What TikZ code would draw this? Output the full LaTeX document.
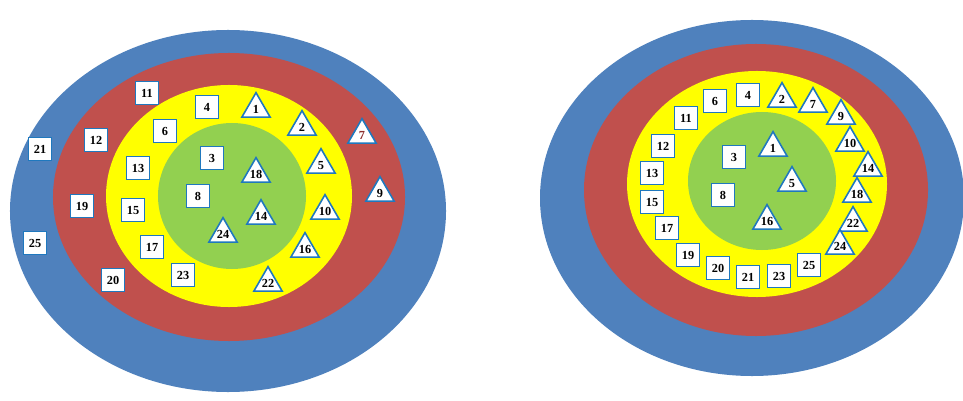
\documentclass[tikz,border=0pt]{standalone}
\usepackage{fontspec}
\setmainfont{Liberation Serif}
\usetikzlibrary{shapes.geometric}
\definecolor{ringblue}{RGB}{79,129,189}
\definecolor{ringred}{RGB}{192,80,77}
\definecolor{ringyellow}{RGB}{255,255,0}
\definecolor{ringgreen}{RGB}{146,208,80}
\definecolor{edge}{RGB}{31,120,190}
\definecolor{darkred}{RGB}{140,45,45}
\begin{document}
\begin{tikzpicture}[x=0.03cm,y=-0.03cm,
  numfont/.style={font=\fontsize{10.5}{12}\selectfont\bfseries},
  sq/.style={draw=edge, fill=white, line width=1.35pt, minimum size=0.69cm, inner sep=0pt, numfont},
  tri/.style={regular polygon, regular polygon sides=3, draw=edge, fill=white, line width=1.35pt,
    minimum size=0.98cm, inner sep=0pt, label={[numfont, inner sep=0pt, yshift=-0.5pt]center:#1}}]
\useasboundingbox (0,0) rectangle (963,401);
\fill[white] (0,0) rectangle (963,401);
% left rings
\fill[ringblue]   (228,211) ellipse [x radius=6.54cm, y radius=5.43cm];
\fill[ringred]    (229,197) ellipse [x radius=5.28cm, y radius=4.32cm];
\fill[ringyellow] (229,196) ellipse [x radius=3.69cm, y radius=3.33cm];
\fill[ringgreen]  (232,196) ellipse [x radius=2.22cm, y radius=2.19cm];
% right rings
\fill[ringblue]   (752,198) ellipse [x radius=6.36cm, y radius=5.34cm];
\fill[ringred]    (756,190) ellipse [x radius=5.16cm, y radius=4.38cm];
\fill[ringyellow] (757,184) ellipse [x radius=3.90cm, y radius=3.39cm];
\fill[ringgreen]  (762,181) ellipse [x radius=2.22cm, y radius=2.07cm];
% left squares
\node[sq] (a11) at (147,93) {11};
\node[sq] (a4)  at (207,107) {4};
\node[sq] (a6)  at (165,131) {6};
\node[sq] (a12) at (96,140) {12};
\node[sq] (a21) at (40,149) {21};
\node[sq] (a13) at (138,168) {13};
\node[sq] (a3)  at (212,158) {3};
\node[sq] (a8)  at (198,196) {8};
\node[sq] (a19) at (82,206) {19};
\node[sq] (a15) at (133,210) {15};
\node[sq] (a25) at (35,243) {25};
\node[sq] (a17) at (152,247) {17};
\node[sq] (a20) at (113,280) {20};
\node[sq] (a23) at (183,275) {23};
% left triangles
\node[tri=1]  (b1)  at (256,109) {};
\node[tri=2]  (b2)  at (302,127) {};
\node[tri={\color{darkred}7}]  (b7)  at (362,135) {};
\node[tri=18] (b18) at (256,174) {};
\node[tri=5]  (b5)  at (321,165) {};
\node[tri=9]  (b9)  at (380,193) {};
\node[tri=10] (b10) at (325,211) {};
\node[tri=14] (b14) at (261,216) {};
\node[tri=24] (b24) at (223,234) {};
\node[tri=16] (b16) at (305,249) {};
\node[tri=22] (b22) at (268,283) {};
% right squares
\node[sq] (c4)  at (748,95) {4};
\node[sq] (c6)  at (715,101) {6};
\node[sq] (c11) at (686,118) {11};
\node[sq] (c12) at (663,146) {12};
\node[sq] (c3)  at (734,157) {3};
\node[sq] (c13) at (652,173) {13};
\node[sq] (c8)  at (723,195) {8};
\node[sq] (c15) at (652,202) {15};
\node[sq] (c17) at (667,228) {17};
\node[sq] (c19) at (688,255) {19};
\node[sq] (c20) at (718,268) {20};
\node[sq] (c21) at (748,277) {21};
\node[sq] (c23) at (779,276) {23};
\node[sq] (c25) at (809,265) {25};
% right triangles
\node[tri=2]  (d2)  at (782,99) {};
\node[tri=7]  (d7)  at (813,104) {};
\node[tri=9]  (d9)  at (841,116) {};
\node[tri=10] (d10) at (850,143) {};
\node[tri=14] (d14) at (868,168) {};
\node[tri=18] (d18) at (857,194) {};
\node[tri=22] (d22) at (853,223) {};
\node[tri=24] (d24) at (840,246) {};
\node[tri=1]  (d1)  at (773,148) {};
\node[tri=5]  (d5)  at (792,183) {};
\node[tri=16] (d16) at (767,221) {};
\end{tikzpicture}
\end{document}
